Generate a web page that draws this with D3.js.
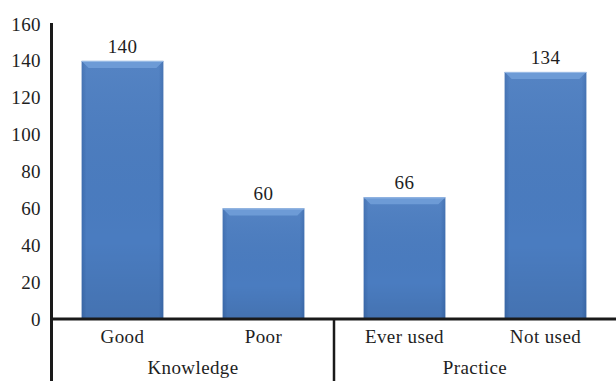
<!DOCTYPE html>
<html><head><meta charset="utf-8">
<script src="https://cdn.jsdelivr.net/npm/d3@7"></script>
<style>body{margin:0;background:#fff}svg{display:block}</style>
</head><body><svg id="c" width="616" height="381"></svg>
<script>
const categories = ["Good", "Poor", "Ever used", "Not used"];
const values = [140, 60, 66, 134];
const groups = ["Knowledge", "Practice"];
const groupOf = [0, 0, 1, 1];
const yTicks = [0, 20, 40, 60, 80, 100, 120, 140, 160];

(function () {
const svg = d3.select("#c");
const font = "'Liberation Serif','DejaVu Serif',serif";
const fs = 19, ls = 0.4, tc = "#1e1e1e";
const mLeft = 52, mRight = 616, mTop = 24, mBottom = 319;
const x = d3.scaleBand().domain(categories).range([mLeft, mRight]).paddingInner(0.42).paddingOuter(0.21);
const y = d3.scaleLinear().domain([0, 160]).range([mBottom, mTop]);

const defs = svg.append("defs");
const g1 = defs.append("linearGradient").attr("id", "hg").attr("x1", 0).attr("x2", 1).attr("y1", 0).attr("y2", 0);
g1.append("stop").attr("offset", "0").attr("stop-color", "#3d6db0");
g1.append("stop").attr("offset", "0.06").attr("stop-color", "#4a7cc0");
g1.append("stop").attr("offset", "0.94").attr("stop-color", "#4a7cc0");
g1.append("stop").attr("offset", "1").attr("stop-color", "#3d6db0");
const g2 = defs.append("linearGradient").attr("id", "vg").attr("x1", 0).attr("x2", 0).attr("y1", 0).attr("y2", 1);
g2.append("stop").attr("offset", "0").attr("stop-color", "#ffffff").attr("stop-opacity", 0.06);
g2.append("stop").attr("offset", "0.7").attr("stop-color", "#000000").attr("stop-opacity", 0);
g2.append("stop").attr("offset", "1").attr("stop-color", "#000000").attr("stop-opacity", 0.08);

function txt(sel, xx, yy, anchor, s) {
  return sel.append("text").attr("x", xx).attr("y", yy).attr("text-anchor", anchor)
    .attr("font-family", font).attr("font-size", fs).attr("letter-spacing", ls).attr("fill", tc).text(s);
}

const bars = svg.append("g");
categories.forEach((c, i) => {
  const x0 = x(c), w = x.bandwidth(), y0 = y(values[i]), h = y(0) - y0;
  bars.append("rect").attr("x", x0).attr("y", y0).attr("width", w).attr("height", h).attr("fill", "url(#hg)");
  bars.append("rect").attr("x", x0).attr("y", y0).attr("width", w).attr("height", h).attr("fill", "url(#vg)");
  const b = 7;
  bars.append("polygon")
    .attr("points", [[x0, y0], [x0 + w, y0], [x0 + w - b, y0 + b], [x0 + b, y0 + b]].map(p => p.join(",")).join(" "))
    .attr("fill", "#6d9bd6");
  bars.append("line").attr("x1", x0).attr("x2", x0 + w).attr("y1", y0 + 0.5).attr("y2", y0 + 0.5)
    .attr("stroke", "#9dbde6").attr("stroke-width", 1);
  txt(bars, x0 + w / 2, y0 - 8, "middle", values[i]);
});

const ax = svg.append("g");
ax.append("line").attr("x1", 51.5).attr("x2", 51.5).attr("y1", 23).attr("y2", 381).attr("stroke", "#1a1a1a").attr("stroke-width", 3);
yTicks.forEach(t => txt(ax, 41, y(t) + 6.5, "end", t));
ax.append("line").attr("x1", 50).attr("x2", 616).attr("y1", y(0)).attr("y2", y(0)).attr("stroke", "#1a1a1a").attr("stroke-width", 3);
categories.forEach(c => txt(ax, x(c) + x.bandwidth() / 2, 343, "middle", c));
const sepX = (x(categories[1]) + x.bandwidth() + x(categories[2])) / 2;
ax.append("line").attr("x1", sepX).attr("x2", sepX).attr("y1", y(0)).attr("y2", 381).attr("stroke", "#1a1a1a").attr("stroke-width", 2.5);
groups.forEach((g, gi) => {
  const idx = categories.filter((c, i) => groupOf[i] === gi);
  const cx = (x(idx[0]) + x(idx[idx.length - 1]) + x.bandwidth()) / 2;
  txt(ax, cx, 374, "middle", g);
});
})();
</script></body></html>
